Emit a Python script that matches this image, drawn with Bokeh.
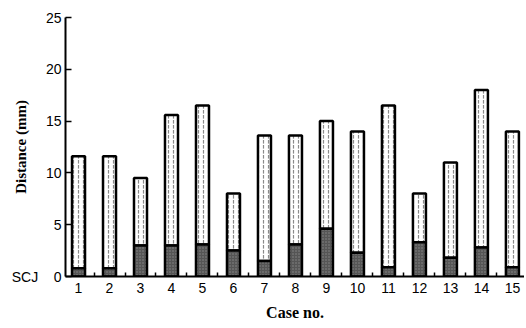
from bokeh.plotting import figure
from bokeh.models import ColumnDataSource, FixedTicker, Range1d
from bokeh.embed import file_html
from bokeh.resources import INLINE

cases = [1, 2, 3, 4, 5, 6, 7, 8, 9, 10, 11, 12, 13, 14, 15]
total_distance = [11.6, 11.6, 9.5, 15.6, 16.5, 8.0, 13.6, 13.6, 15.0, 14.0, 16.5, 8.0, 11.0, 18.0, 14.0]
scj_part = [0.8, 0.8, 3.0, 3.0, 3.1, 2.5, 1.5, 3.1, 4.6, 2.3, 0.9, 3.3, 1.8, 2.8, 0.9]
y_ticks = [0, 5, 10, 15, 20, 25]
y_tick_labels = ["SCJ\u00a0\u00a0\u00a0\u00a00", "5", "10", "15", "20", "25"]

src = ColumnDataSource(dict(x=cases, top=total_distance, low=scj_part,
                            zero=[0] * len(cases)))

p = figure(width=524, height=328, output_backend="svg", toolbar_location=None,
           x_range=Range1d(0.58, 15.39), y_range=Range1d(0, 25),
           min_border_left=65, min_border_right=0, min_border_top=17, min_border_bottom=52)
p.outline_line_color = None
p.grid.visible = False
p.background_fill_color = "white"

p.vbar(x="x", bottom="low", top="top", width=0.42, source=src,
       fill_color="white", hatch_pattern="vertical_dash", hatch_color="#8a8a8a",
       hatch_scale=5, hatch_weight=1.2, line_color="black", line_width=2.5)
p.vbar(x="x", bottom="zero", top="low", width=0.42, source=src,
       fill_color="#555555", hatch_pattern="dot", hatch_color="#8a8a8a",
       hatch_scale=3, line_color="black", line_width=2.5)

xa = p.xaxis[0]
xa.ticker = FixedTicker(ticks=cases, minor_ticks=[c + 0.5 for c in cases])
xa.major_tick_in = 0
xa.major_tick_out = 0
xa.minor_tick_in = 4
xa.minor_tick_out = 0
xa.axis_line_width = 2
xa.axis_line_color = "black"
xa.minor_tick_line_width = 1.5
xa.major_label_text_font = "Liberation Sans"
xa.major_label_text_font_size = "14px"
xa.major_label_text_color = "black"
xa.major_label_standoff = 6
xa.axis_label = "Case no."
xa.axis_label_text_font = "Liberation Serif"
xa.axis_label_text_font_style = "bold"
xa.axis_label_text_font_size = "16px"
xa.axis_label_text_color = "black"
xa.axis_label_standoff = 8

ya = p.yaxis[0]
ya.ticker = FixedTicker(ticks=y_ticks, minor_ticks=[])
ya.major_label_overrides = dict(zip(y_ticks, y_tick_labels))
ya.major_tick_in = 6
ya.major_tick_out = 0
ya.axis_line_width = 2
ya.axis_line_color = "black"
ya.major_tick_line_width = 1.5
ya.major_label_text_font = "Liberation Sans"
ya.major_label_text_font_size = "14px"
ya.major_label_text_color = "black"
ya.major_label_standoff = 4
ya.axis_label = "Distance (mm)"
ya.axis_label_text_font = "Liberation Serif"
ya.axis_label_text_font_style = "bold"
ya.axis_label_text_font_size = "15px"
ya.axis_label_text_color = "black"
ya.axis_label_standoff = -20

open("out.html", "w").write(file_html(p, INLINE))
